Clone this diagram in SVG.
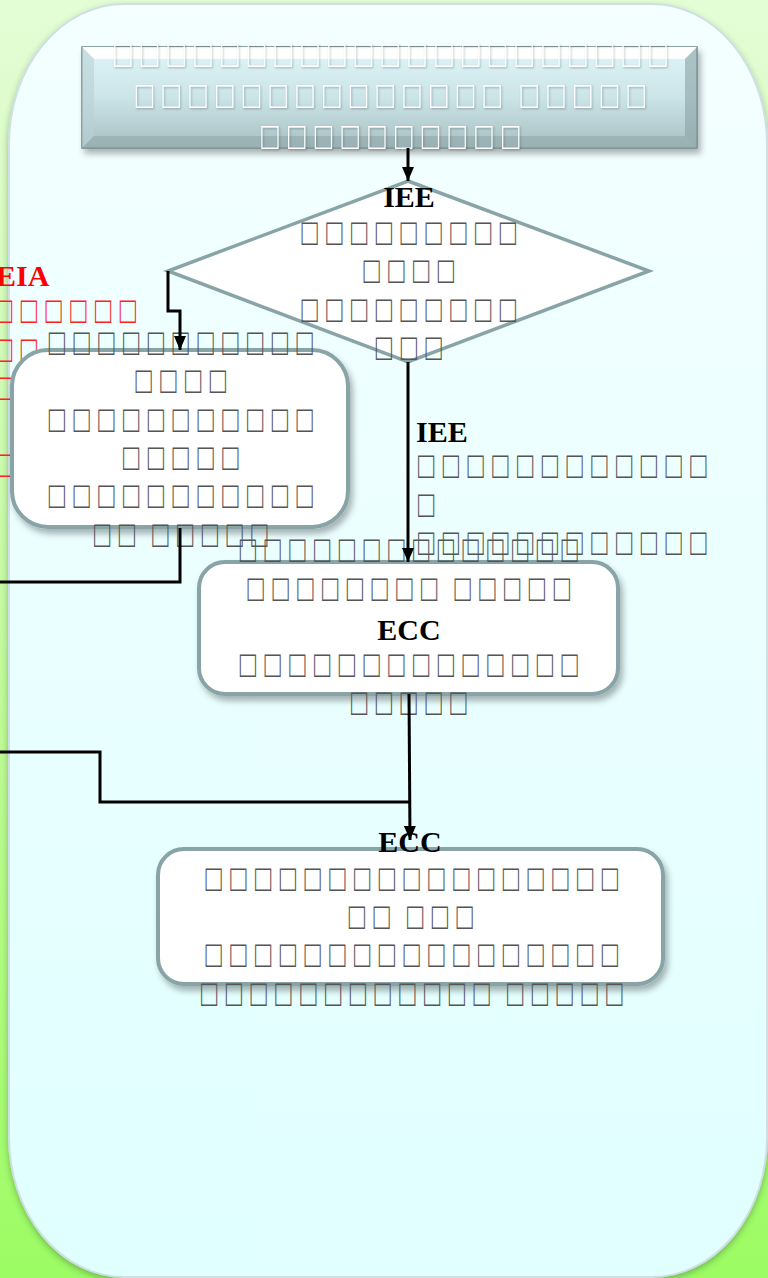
<svg xmlns="http://www.w3.org/2000/svg" width="768" height="1278" viewBox="0 0 768 1278">
<defs>
<linearGradient id="bg" x1="0" y1="0" x2="0" y2="1"><stop offset="0" stop-color="#e4fdd6"/><stop offset="0.5" stop-color="#c4fa9f"/><stop offset="1" stop-color="#9cfc63"/></linearGradient>
<linearGradient id="panel" x1="0" y1="0" x2="0" y2="1"><stop offset="0" stop-color="#f4ffff"/><stop offset="1" stop-color="#e0ffff"/></linearGradient>
<linearGradient id="titleg" x1="0" y1="0" x2="0" y2="1"><stop offset="0" stop-color="#e0f6f9"/><stop offset="0.5" stop-color="#cbe4e8"/><stop offset="1" stop-color="#a7bfc1"/></linearGradient>
<filter id="sh" x="-10%" y="-10%" width="125%" height="130%"><feDropShadow dx="3" dy="5" stdDeviation="3" flood-color="#000" flood-opacity="0.3"/></filter>
<filter id="psh" x="-5%" y="-5%" width="110%" height="110%"><feDropShadow dx="0" dy="3" stdDeviation="3" flood-color="#3a6a30" flood-opacity="0.45"/></filter>
<filter id="tsh" x="-5%" y="-20%" width="110%" height="150%"><feDropShadow dx="1" dy="1" stdDeviation="0.8" flood-color="#000" flood-opacity="0.3"/></filter>
<marker id="ah" markerWidth="14" markerHeight="12" viewBox="0 0 14 12" refX="14" refY="6" orient="auto" markerUnits="userSpaceOnUse"><path d="M0,0 L14,6 L0,12 Z" fill="#000"/></marker>
<style>
.node{fill:#fff;stroke:#88a4a7;stroke-width:4}
.tf{font-family:"Liberation Serif",serif;font-size:30px;fill:#555;letter-spacing:9.4px;word-spacing:-7px;text-anchor:middle}
.tt{font-family:"Liberation Serif",serif;font-size:32px;fill:#fff;letter-spacing:10.4px;word-spacing:-7px;text-anchor:middle}
.lb{font-family:"Liberation Serif",serif;font-size:30px;font-weight:bold;fill:#000;text-anchor:middle}
.red{font-family:"Liberation Serif",serif;font-size:30px;fill:#ff2020;letter-spacing:9.4px}
.st{text-anchor:start}
.conn{fill:none;stroke:#000;stroke-width:3}
</style>
</defs>
<rect width="768" height="1278" fill="url(#bg)"/>
<rect x="9" y="4" width="758" height="1273" rx="115" ry="140" fill="url(#panel)" stroke="#cfe0e4" stroke-width="2" filter="url(#psh)"/>

<g id="title">
<rect x="82" y="47" width="615" height="101" fill="url(#titleg)" stroke="#6f8688" stroke-width="1.5" filter="url(#sh)"/>
<polygon points="82,47 697,47 685,59 94,59" fill="#fff" opacity="0.95"/>
<polygon points="82,47 94,59 94,136 82,148" fill="#b9d0d3" opacity="0.6"/>
<polygon points="697,47 685,59 685,136 697,148" fill="#8aa2a4" opacity="0.6"/>
<polygon points="82,148 697,148 685,136 94,136" fill="#8ea6a8" opacity="0.55"/>
<g filter="url(#tsh)">
<text class="tt" transform="translate(395,67) scale(0.9,1.2)">□□□□□□□□□□□□□□□□□□□□□</text>
<text class="tt" transform="translate(395,108) scale(0.9,1.2)">□□□□□□□□□□□□□□ □□□□□</text>
<text class="tt" transform="translate(395,149) scale(0.9,1.2)">□□□□□□□□□□</text>
</g>
</g>

<g id="eia-label">
<text class="lb st" x="-4" y="286" style="fill:#ff0000">EIA</text>
<text class="red" transform="translate(-4,323) scale(0.9,1.25)">□□□□□□</text>
<text class="red" transform="translate(-4,362) scale(0.9,1.25)">□□</text>
<text class="red" transform="translate(-4,400) scale(0.9,1.25)">□</text>
<text class="red" transform="translate(-4,477) scale(0.9,1.25)">□</text>
</g>

<g id="decision">
<polygon class="node" points="408,181 649,271 408,362 168,271" style="stroke-width:3.5"/>
<text class="lb" x="409" y="207">IEE</text>
<text class="tf" transform="translate(413,245) scale(0.9,1.25)">□□□□□□□□□</text>
<text class="tf" transform="translate(413,283) scale(0.9,1.25)">□□□□</text>
<text class="tf" transform="translate(413,322) scale(0.9,1.25)">□□□□□□□□□</text>
<text class="tf" transform="translate(413,360) scale(0.9,1.25)">□□□</text>
</g>

<g id="eia-box">
<rect class="node" x="12" y="350" width="336" height="177" rx="36" filter="url(#sh)"/>
<text class="tf" transform="translate(185,355) scale(0.9,1.25)">□□□□□□□□□□□</text>
<text class="tf" transform="translate(185,393) scale(0.9,1.25)">□□□□</text>
<text class="tf" transform="translate(185,432) scale(0.9,1.25)">□□□□□□□□□□□</text>
<text class="tf" transform="translate(185,470) scale(0.9,1.25)">□□□□□</text>
<text class="tf" transform="translate(185,508) scale(0.9,1.25)">□□□□□□□□□□□</text>
<text class="tf" transform="translate(185,547) scale(0.9,1.25)">□□ □□□□□</text>
</g>

<g id="iee-label">
<text class="lb st" x="416" y="442">IEE</text>
<text class="tf st" transform="translate(418,478) scale(0.9,1.25)">□□□□□□□□□□□□</text>
<text class="tf st" transform="translate(418,517) scale(0.9,1.25)">□</text>
<text class="tf st" transform="translate(418,555) scale(0.9,1.25)">□□□□□□□□□□□□</text>
</g>

<g id="ecc-review">
<rect class="node" x="199" y="562" width="419" height="132" rx="26" filter="url(#sh)"/>
<text class="tf" transform="translate(413,562) scale(0.9,1.25)">□□□□□□□□□□□□□□</text>
<text class="tf" transform="translate(413,601) scale(0.9,1.25)">□□□□□□□□ □□□□□</text>
<text class="lb" x="409" y="640">ECC</text>
<text class="tf" transform="translate(413,677) scale(0.9,1.25)">□□□□□□□□□□□□□□</text>
<text class="tf" transform="translate(413,715) scale(0.9,1.25)">□□□□□</text>
</g>

<g id="ecc-issue">
<rect class="node" x="158" y="849" width="505" height="135" rx="26" filter="url(#sh)"/>
<text class="lb" x="410" y="852">ECC</text>
<text class="tf" transform="translate(416,891) scale(0.9,1.25)">□□□□□□□□□□□□□□□□□</text>
<text class="tf" transform="translate(415,929) scale(0.9,1.25)">□□ □□□</text>
<text class="tf" transform="translate(416,967) scale(0.9,1.25)">□□□□□□□□□□□□□□□□□</text>
<text class="tf" transform="translate(416,1006) scale(0.9,1.25)">□□□□□□□□□□□□ □□□□□</text>
</g>

<g id="connectors">
<path class="conn" d="M408,148 L408,181" marker-end="url(#ah)"/>
<path class="conn" d="M168,271 L168,311 L180,311 L180,350" marker-end="url(#ah)"/>
<path class="conn" d="M408,362 L408,562" marker-end="url(#ah)"/>
<path class="conn" d="M180,528 L180,582 L0,582"/>
<path class="conn" d="M0,752 L100,752 L100,802 L410,802"/>
<path class="conn" d="M409,694 L410,840" marker-end="url(#ah)"/>
</g>
</svg>
